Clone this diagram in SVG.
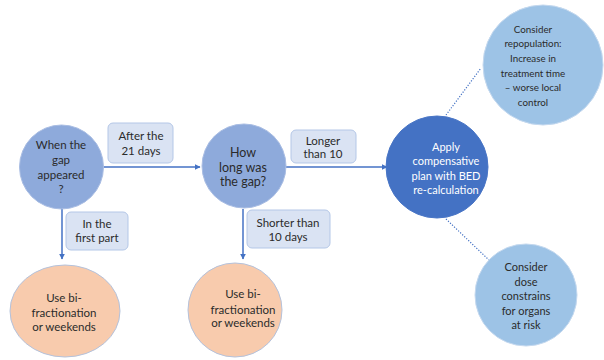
<svg xmlns="http://www.w3.org/2000/svg" width="604" height="360" viewBox="0 0 604 360">
  <style>
    text { font-family: Lato, "Liberation Sans", sans-serif; fill: #2b2b2b; text-anchor: middle; }
    .q { fill: #8eaadb; stroke: #a9bde3; stroke-width: 1; }
    .act { fill: #4472c4; stroke: #4a76c6; stroke-width: 1; }
    .note { fill: #9dc3e6; stroke: #c5d9ef; stroke-width: 1; }
    .res { fill: #f8cbad; stroke: #b4c2dc; stroke-width: 1; }
    .lbl { fill: #dae3f3; stroke: #b4c7e7; stroke-width: 1; }
    .flow { stroke: #4472c4; stroke-width: 1.5; fill: none; }
    .dot { stroke: #4472c4; stroke-width: 1.2; stroke-dasharray: 1.2 1.6; fill: none; }
    .w { fill: #ffffff; }
  </style>
  <defs>
    <marker id="arrow" viewBox="0 0 10 10" refX="9" refY="5" markerWidth="4" markerHeight="4" orient="auto">
      <path d="M0,0 L10,5 L0,10 z" fill="#4472c4"/>
    </marker>
  </defs>

  <!-- connectors -->
  <g id="connectors">
    <line class="flow" x1="103" y1="167" x2="200" y2="167" marker-end="url(#arrow)"/>
    <line class="flow" x1="286" y1="167" x2="387" y2="167" marker-end="url(#arrow)"/>
    <line class="flow" x1="62" y1="209" x2="62" y2="259" marker-end="url(#arrow)"/>
    <line class="flow" x1="243" y1="209" x2="243" y2="259" marker-end="url(#arrow)"/>
    <line class="dot" x1="446" y1="115" x2="481" y2="68"/>
    <line class="dot" x1="446" y1="219" x2="490" y2="261"/>
  </g>

  <!-- branch labels -->
  <g id="label-after">
    <rect class="lbl" x="108" y="123" width="65" height="40" rx="5"/>
    <text x="141" y="140" font-size="11.5">After the</text>
    <text x="141" y="155" font-size="11.5">21 days</text>
  </g>
  <g id="label-first">
    <rect class="lbl" x="66" y="212" width="62" height="38" rx="5"/>
    <text x="97" y="228" font-size="11.5">In the</text>
    <text x="97" y="242" font-size="11.5">first part</text>
  </g>
  <g id="label-longer">
    <rect class="lbl" x="291" y="130" width="65" height="33" rx="5"/>
    <text x="323" y="145" font-size="11.5">Longer</text>
    <text x="323" y="158" font-size="11.5">than 10</text>
  </g>
  <g id="label-shorter">
    <rect class="lbl" x="247" y="210" width="83" height="38" rx="5"/>
    <text x="288" y="227" font-size="11.5">Shorter than</text>
    <text x="288" y="241" font-size="11.5">10 days</text>
  </g>

  <!-- decision nodes -->
  <g id="when">
    <circle class="q" cx="61.5" cy="167" r="42"/>
    <text x="61" y="149" font-size="11.5">When the</text>
    <text x="61" y="164" font-size="11.5">gap</text>
    <text x="61" y="179" font-size="11.5">appeared</text>
    <text x="61" y="193" font-size="11.5">?</text>
  </g>
  <g id="how-long">
    <circle class="q" cx="244" cy="166" r="42"/>
    <text x="243" y="157" font-size="12.5">How</text>
    <text x="243" y="171.5" font-size="12.5">long was</text>
    <text x="243" y="186" font-size="12.5">the gap?</text>
  </g>

  <!-- outcome nodes -->
  <g id="bifrac-1">
    <ellipse class="res" cx="65" cy="311" rx="55" ry="46"/>
    <text x="64" y="302" font-size="11.5">Use bi-</text>
    <text x="64" y="317" font-size="11.5">fractionation</text>
    <text x="64" y="331" font-size="11.5">or weekends</text>
  </g>
  <g id="bifrac-2">
    <ellipse class="res" cx="235" cy="310" rx="47" ry="47"/>
    <text x="243" y="298" font-size="11.5">Use bi-</text>
    <text x="243" y="314" font-size="11.5">fractionation</text>
    <text x="243" y="327" font-size="11.5">or weekends</text>
  </g>
  <g id="compensate">
    <circle class="act" cx="437" cy="167" r="51"/>
    <text class="w" x="446" y="151" font-size="11">Apply</text>
    <text class="w" x="446" y="165" font-size="11">compensative</text>
    <text class="w" x="446" y="180" font-size="11">plan with BED</text>
    <text class="w" x="446" y="194" font-size="11">re-calculation</text>
  </g>
  <g id="repopulation">
    <circle class="note" cx="543" cy="65" r="60"/>
    <text x="533" y="32.5" font-size="9.8">Consider</text>
    <text x="533" y="47" font-size="9.8">repopulation:</text>
    <text x="533" y="61.5" font-size="9.8">Increase in</text>
    <text x="533" y="76.5" font-size="9.8">treatment time</text>
    <text x="533" y="90.5" font-size="9.8">– worse local</text>
    <text x="533" y="105.5" font-size="9.8">control</text>
  </g>
  <g id="dose">
    <circle class="note" cx="526" cy="295" r="51"/>
    <text x="526" y="271" font-size="11">Consider</text>
    <text x="526" y="286" font-size="11">dose</text>
    <text x="526" y="300" font-size="11">constrains</text>
    <text x="526" y="315" font-size="11">for organs</text>
    <text x="526" y="329" font-size="11">at risk</text>
  </g>
</svg>
